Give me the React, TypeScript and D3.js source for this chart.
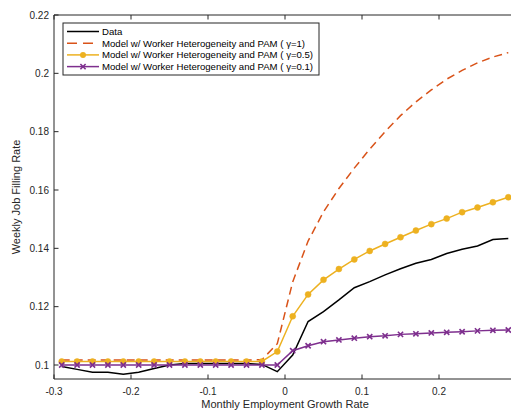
import React from "react";
import * as d3 from "d3";

const growth = [-0.29, -0.27, -0.25, -0.23, -0.21, -0.19, -0.17, -0.15, -0.13, -0.11, -0.09, -0.07, -0.05, -0.03, -0.01, 0.01, 0.03, 0.05, 0.07, 0.09, 0.11, 0.13, 0.15, 0.17, 0.19, 0.21, 0.23, 0.25, 0.27, 0.29];

const dataSeries = [0.0995, 0.0985, 0.0975, 0.0975, 0.0968, 0.0975, 0.0988, 0.1, 0.1005, 0.1005, 0.1005, 0.1005, 0.1005, 0.1002, 0.0977, 0.1034, 0.1149, 0.1183, 0.1223, 0.1265, 0.1286, 0.1309, 0.133, 0.1349, 0.1362, 0.1382, 0.1397, 0.1408, 0.143, 0.1434];

const gamma1 = [0.1017, 0.1017, 0.1017, 0.1017, 0.1017, 0.1017, 0.1017, 0.1017, 0.1017, 0.1017, 0.1017, 0.1017, 0.1017, 0.1018, 0.1073, 0.1285, 0.1425, 0.1525, 0.1605, 0.1675, 0.174, 0.18, 0.1855, 0.1902, 0.1943, 0.198, 0.201, 0.2036, 0.2056, 0.2071];

const gamma05 = [0.1012, 0.1012, 0.1012, 0.1012, 0.1012, 0.1012, 0.1012, 0.1012, 0.1012, 0.1012, 0.1012, 0.1012, 0.1012, 0.1012, 0.1046, 0.1167, 0.1242, 0.1292, 0.1329, 0.1362, 0.1391, 0.1415, 0.1438, 0.1461, 0.1483, 0.1502, 0.1524, 0.154, 0.1558, 0.1575];

const gamma01 = [0.1, 0.1, 0.1, 0.1, 0.1, 0.1, 0.1, 0.1, 0.1, 0.1, 0.1, 0.1, 0.1, 0.1, 0.1, 0.1049, 0.1066, 0.108, 0.1086, 0.1092, 0.1097, 0.11, 0.1105, 0.1107, 0.111, 0.1112, 0.1114, 0.1117, 0.1119, 0.112];

const xTicks = [-0.3, -0.2, -0.1, 0, 0.1, 0.2];
const yTicks = [0.1, 0.12, 0.14, 0.16, 0.18, 0.2, 0.22];
const legendLabels = [
  "Data",
  "Model w/ Worker Heterogeneity and PAM ( \u03B3=1)",
  "Model w/ Worker Heterogeneity and PAM ( \u03B3=0.5)",
  "Model w/ Worker Heterogeneity and PAM ( \u03B3=0.1)",
];

const W = 511;
const H = 415;
const left = 54;
const right = 516;
const top = 15;
const bottom = 379;

const BLACK = "#000000";
const ORANGE = "#D95319";
const YELLOW = "#EDB120";
const PURPLE = "#7E2F8E";
const AXIS = "#262626";
const FONT = "'Liberation Sans', Arial, Helvetica, sans-serif";

export default function App() {
  const x = d3.scaleLinear().domain([-0.3, 0.3]).range([left, right]);
  const y = d3.scaleLinear().domain([0.0952, 0.22]).range([bottom, top]);

  const line = (vals: number[]) =>
    d3
      .line<number>()
      .x((_, i) => x(growth[i]))
      .y((v) => y(v))(vals) as string;

  const xMark = (cx: number, cy: number, r: number) =>
    `M${cx - r},${cy - r}L${cx + r},${cy + r}M${cx - r},${cy + r}L${cx + r},${cy - r}`;

  const legX = 63;
  const legY = 23;
  const legW = 256;
  const legH = 52;
  const rowY = [31.5, 43.2, 54.9, 66.6];

  return (
    <svg
      width={W}
      height={H}
      style={{ position: "absolute", left: 0, top: 0, background: "#fff" }}
      fontFamily={FONT}
    >
      <rect x={0} y={0} width={W} height={H} fill="#fff" />

      {/* series */}
      <path d={line(dataSeries)} fill="none" stroke={BLACK} strokeWidth={1.5} />
      <path d={line(gamma1)} fill="none" stroke={ORANGE} strokeWidth={1.5} strokeDasharray="8,5" />
      <path d={line(gamma05)} fill="none" stroke={YELLOW} strokeWidth={1.5} />
      {gamma05.map((v, i) => (
        <circle key={"c" + i} cx={x(growth[i])} cy={y(v)} r={3} fill={YELLOW} stroke={YELLOW} strokeWidth={0.5} />
      ))}
      <path d={line(gamma01)} fill="none" stroke={PURPLE} strokeWidth={1.5} />
      {gamma01.map((v, i) => (
        <path key={"x" + i} d={xMark(x(growth[i]), y(v), 2.6)} stroke={PURPLE} strokeWidth={1.6} fill="none" />
      ))}

      {/* axes */}
      <line x1={left} x2={right} y1={bottom} y2={bottom} stroke={AXIS} strokeWidth={1} />
      <line x1={left} x2={right} y1={top} y2={top} stroke={AXIS} strokeWidth={1} />
      <line x1={left} x2={left} y1={top} y2={bottom} stroke={AXIS} strokeWidth={1} />
      <line x1={right} x2={right} y1={top} y2={bottom} stroke={AXIS} strokeWidth={1} />

      {xTicks.map((t) => (
        <g key={"xt" + t}>
          <line x1={x(t)} x2={x(t)} y1={bottom} y2={bottom - 4.5} stroke={AXIS} strokeWidth={1} />
          <line x1={x(t)} x2={x(t)} y1={top} y2={top + 4.5} stroke={AXIS} strokeWidth={1} />
          <text x={x(t)} y={bottom + 16} fontSize={10} fill={AXIS} textAnchor="middle">
            {t === 0 ? "0" : String(t)}
          </text>
        </g>
      ))}
      {yTicks.map((t) => (
        <g key={"yt" + t}>
          <line x1={left} x2={left + 4.5} y1={y(t)} y2={y(t)} stroke={AXIS} strokeWidth={1} />
          <line x1={right} x2={right - 4.5} y1={y(t)} y2={y(t)} stroke={AXIS} strokeWidth={1} />
          <text x={left - 5} y={y(t) + 3.5} fontSize={10} fill={AXIS} textAnchor="end">
            {String(t)}
          </text>
        </g>
      ))}

      <text x={285} y={408} fontSize={11} fill={AXIS} textAnchor="middle">
        Monthly Employment Growth Rate
      </text>
      <text
        transform={`translate(20,197) rotate(-90)`}
        fontSize={11}
        fill={AXIS}
        textAnchor="middle"
      >
        Weekly Job Filling Rate
      </text>

      {/* legend */}
      <rect x={legX} y={legY} width={legW} height={legH} fill="#fff" stroke={AXIS} strokeWidth={1} />
      {legendLabels.map((lab, i) => {
        const yy = rowY[i];
        const x1 = 67;
        const x2 = 99;
        const mx = (x1 + x2) / 2;
        return (
          <g key={"lg" + i}>
            {i === 0 && <line x1={x1} x2={x2} y1={yy} y2={yy} stroke={BLACK} strokeWidth={1.5} />}
            {i === 1 && (
              <line x1={x1} x2={x2} y1={yy} y2={yy} stroke={ORANGE} strokeWidth={1.5} strokeDasharray="10,6" />
            )}
            {i === 2 && (
              <g>
                <line x1={x1} x2={x2} y1={yy} y2={yy} stroke={YELLOW} strokeWidth={1.5} />
                <circle cx={mx} cy={yy} r={3} fill={YELLOW} />
              </g>
            )}
            {i === 3 && (
              <g>
                <line x1={x1} x2={x2} y1={yy} y2={yy} stroke={PURPLE} strokeWidth={1.5} />
                <path d={xMark(mx, yy, 2.6)} stroke={PURPLE} strokeWidth={1.6} fill="none" />
              </g>
            )}
            <text x={102} y={yy + 3.4} fontSize={9.6} fill="#000">
              {lab}
            </text>
          </g>
        );
      })}
    </svg>
  );
}
